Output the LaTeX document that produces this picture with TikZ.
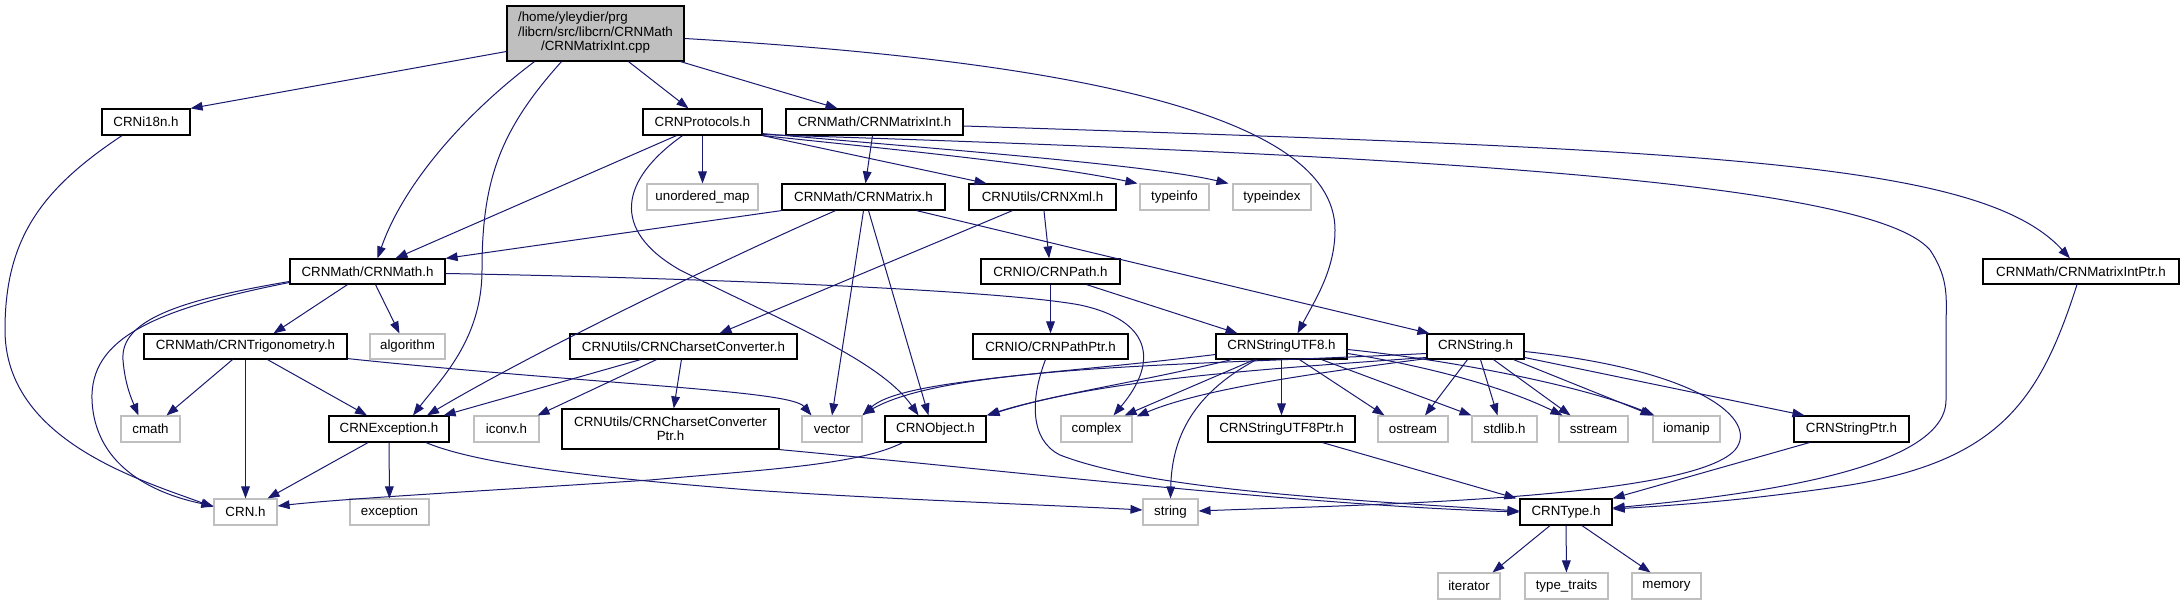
\documentclass[tikz,border=0pt]{standalone}
\usepackage{fontspec}
\setmainfont{Liberation Sans}
\usetikzlibrary{arrows.meta,calc}
\definecolor{edgecol}{HTML}{191970}
\definecolor{sysgray}{HTML}{BFBFBF}
\newcommand\mkbox[7]{\node[#1, minimum width={(#4-#2)*0.75pt}, minimum height={(#5-#3)*0.75pt}] (#6) at ({(#2+#4)/2},{(#3+#5)/2}) {#7};}
\begin{document}
\begin{tikzpicture}[x=0.75pt,y=-0.75pt,
  boxfont/.style={font=\fontsize{10}{10.8}\selectfont},
  hdr/.style={draw=black, line width=0.9pt, fill=white, inner sep=0pt, boxfont, align=center},
  sys/.style={draw=sysgray, line width=0.8pt, fill=white, inner sep=0pt, boxfont},
  rootbox/.style={draw=black, line width=0.9pt, fill=sysgray, inner sep=0pt, boxfont},
  edge/.style={draw=edgecol, line width=0.75pt, -{Triangle[length=9pt,width=6.5pt]}}]
\fill[white] (0,0) rectangle (2184,605);
\path[use as bounding box] (0,0) rectangle (2184,605);
% nodes
\mkbox{rootbox}{507}{6}{684}{61}{root}{\begin{tabular}{@{}l@{}}/home/yleydier/prg\\/libcrn/src/libcrn/CRNMath\\\multicolumn{1}{@{}c@{}}{/CRNMatrixInt.cpp}\end{tabular}}
\mkbox{hdr}{102}{109}{190}{135}{i18n}{CRNi18n.h}
\mkbox{hdr}{643}{109}{762}{135}{prot}{CRNProtocols.h}
\mkbox{hdr}{786}{109}{963}{135}{mint}{CRNMath/CRNMatrixInt.h}
\mkbox{sys}{647}{184}{758}{210}{umap}{unordered\_map}
\mkbox{hdr}{782}{184}{945}{210}{mat}{CRNMath/CRNMatrix.h}
\mkbox{hdr}{969}{184}{1116}{210}{xml}{CRNUtils/CRNXml.h}
\mkbox{sys}{1140}{184}{1209}{210}{tinfo}{typeinfo}
\mkbox{sys}{1233}{184}{1311}{210}{tidx}{typeindex}
\mkbox{hdr}{290}{259}{445}{284}{math}{CRNMath/CRNMath.h}
\mkbox{hdr}{981}{259}{1120}{284}{path}{CRNIO/CRNPath.h}
\mkbox{hdr}{1983}{259}{2179}{284}{mip}{CRNMath/CRNMatrixIntPtr.h}
\mkbox{hdr}{144}{334}{347}{359}{trig}{CRNMath/CRNTrigonometry.h}
\mkbox{sys}{370}{334}{445}{359}{algo}{algorithm}
\mkbox{hdr}{570}{334}{797}{359}{cc}{CRNUtils/CRNCharsetConverter.h}
\mkbox{hdr}{973}{334}{1128}{359}{pptr}{CRNIO/CRNPathPtr.h}
\mkbox{hdr}{1216}{334}{1347}{359}{sutf}{CRNStringUTF8.h}
\mkbox{hdr}{1427}{334}{1524}{359}{cstr}{CRNString.h}
\mkbox{sys}{121}{416}{180}{442}{cmath}{cmath}
\mkbox{hdr}{329}{416}{449}{442}{exc}{CRNException.h}
\mkbox{sys}{474}{416}{539}{442}{iconv}{iconv.h}
\mkbox{hdr}{562}{409}{779}{449}{ccp}{CRNUtils/CRNCharsetConverter\\Ptr.h}
\mkbox{sys}{802}{416}{862}{442}{vec}{vector}
\mkbox{hdr}{885}{416}{986}{442}{obj}{CRNObject.h}
\mkbox{sys}{1061}{416}{1132}{442}{cplx}{complex}
\mkbox{hdr}{1208}{416}{1355}{442}{su8p}{CRNStringUTF8Ptr.h}
\mkbox{sys}{1378}{416}{1448}{442}{ostr}{ostream}
\mkbox{sys}{1472}{416}{1537}{442}{stdl}{stdlib.h}
\mkbox{sys}{1559}{416}{1628}{442}{sstr}{sstream}
\mkbox{sys}{1653}{416}{1720}{442}{ioman}{iomanip}
\mkbox{hdr}{1794}{416}{1909}{442}{sptr}{CRNStringPtr.h}
\mkbox{sys}{214}{499}{277}{525}{crn}{CRN.h}
\mkbox{sys}{350}{499}{429}{525}{excn}{exception}
\mkbox{sys}{1143}{499}{1198}{525}{str}{string}
\mkbox{hdr}{1520}{499}{1612}{525}{type}{CRNType.h}
\mkbox{sys}{1438}{573}{1500}{599}{iter}{iterator}
\mkbox{sys}{1525}{573}{1608}{599}{ttr}{type\_traits}
\mkbox{sys}{1632}{573}{1701}{599}{mem}{memory}
% edges from root
\draw[edge] ($(root.west)+(0,18)$) -- (i18n.north east);
\draw[edge] ($(root.south)+(-61,0)$) .. controls (470,110) and (405,180) .. ($(math.north)+(10,0)$);
\draw[edge] ($(root.south)+(-34,0)$) .. controls (500,130) and (482,180) .. (482,270) .. controls (482,340) and (440,380) .. ($(exc.north)+(24,0)$);
\draw[edge] ($(root.south)+(33,0)$) -- ($(prot.north)+(-14,0)$);
\draw[edge] ($(root.south)+(85,0)$) -- ($(mint.north)+(-37,0)$);
\draw[edge] ($(root.east)+(0,5)$) .. controls (1050,60) and (1335,110) .. (1335,230) .. controls (1335,270) and (1315,300) .. ($(sutf.north)+(16,0)$);
% i18n
\draw[edge] ($(i18n.south)+(-24,0)$) .. controls (40,190) and (5,240) .. (5,330) .. controls (5,440) and (140,480) .. ($(crn.west)+(0,-5)$);
% protocols
\draw[edge] (prot) -- (umap);
\draw[edge] ($(prot.south)+(-26,0)$) -- ($(math.north)+(28,0)$);
\draw[edge] ($(prot.south)+(-20,0)$) .. controls (620,180) and (610,230) .. (680,270) .. controls (780,320) and (880,360) .. ($(obj.north)+(-17,0)$);
\draw[edge] (prot.south east) -- ($(xml.north)+(-56,0)$);
\draw[edge] (prot.south east) .. controls (900,150) and (1050,165) .. ($(tinfo.north west)+(-2,0)$);
\draw[edge] ($(prot.south east)+(0,-2)$) .. controls (950,150) and (1150,165) .. ($(tidx.north west)+(-4,0)$);
\draw[edge] ($(prot.south east)+(0,-1)$) .. controls (1400,155) and (1870,180) .. (1930,250) .. controls (1950,280) and (1946,300) .. (1946,330) -- (1946,400) .. controls (1946,470) and (1750,495) .. ($(type.east)+(0,-4)$);
% matrixint
\draw[edge] (mint) -- (mat);
\draw[edge] ($(mint.east)+(0,4)$) .. controls (1700,150) and (1980,160) .. ($(mip.north)+(-11,0)$);
% matrix
\draw[edge] (mat.south west) -- (math.north east);
\draw[edge] ($(mat.south)+(-28,0)$) .. controls (700,270) and (520,360) .. ($(exc.north)+(38,0)$);
\draw[edge] (mat.south) -- (vec.north);
\draw[edge] ($(mat.south)+(5,0)$) -- ($(obj.north)+(-7,0)$);
\draw[edge] ($(mat.south)+(53,0)$) -- ($(cstr.north west)+(3,0)$);
% xml, path
\draw[edge] (xml) -- (path);
\draw[edge] ($(xml.south)+(-30,0)$) -- ($(cc.north)+(36,0)$);
\draw[edge] (path) -- (pptr);
\draw[edge] ($(path.south)+(36,0)$) -- ($(sutf.north)+(-44,0)$);
% matrixintptr
\draw[edge] ($(mip.south)+(-4,0)$) .. controls (2040,400) and (2000,460) .. (1850,485) .. controls (1750,500) and (1680,505) .. ($(type.east)+(0,-3)$);
% math
\draw[edge] ($(math.south)+(-20,0)$) -- ($(trig.north)+(28,0)$);
\draw[edge] ($(math.south)+(8,0)$) -- ($(algo.north)+(-8,0)$);
\draw[edge] ($(math.west)+(0,10)$) .. controls (180,300) and (120,320) .. (123,360) .. controls (125,385) and (132,400) .. ($(cmath.north)+(-12,0)$);
\draw[edge] ($(math.west)+(0,11)$) .. controls (150,310) and (90,340) .. (92,400) .. controls (95,470) and (160,495) .. ($(crn.west)+(0,-6)$);
\draw[edge] ($(math.east)+(0,2)$) .. controls (700,278) and (1000,290) .. (1080,305) .. controls (1150,320) and (1160,360) .. ($(cplx.north)+(17,0)$);
% trigonometry
\draw[edge] ($(trig.south)+(-13,0)$) -- ($(cmath.north)+(16,0)$);
\draw[edge] (trig) -- (crn);
\draw[edge] ($(trig.south)+(22,0)$) -- ($(exc.north)+(-22,0)$);
\draw[edge] ($(trig.south east)+(0,-1)$) .. controls (600,385) and (790,390) .. ($(vec.north west)+(10,0)$);
% charset converter
\draw[edge] ($(cc.south)+(-43,0)$) -- ($(exc.north east)+(-6,0)$);
\draw[edge] ($(cc.south)+(-27,0)$) -- ($(iconv.north east)+(-2,0)$);
\draw[edge] (cc) -- (ccp);
% exception
\draw[edge] ($(exc.south)+(-21,0)$) -- ($(crn.north east)+(-10,0)$);
\draw[edge] (exc) -- (excn);
\draw[edge] ($(exc.south)+(37,0)$) .. controls (480,465) and (600,478) .. (750,490) .. controls (900,500) and (1050,505) .. ($(str.west)+(0,-2)$);
% ptrs to CRNType
\draw[edge] (ccp.south east) .. controls (1000,470) and (1300,505) .. (type.west);
\draw[edge] ($(pptr.south)+(-5,0)$) .. controls (1030,400) and (1030,440) .. (1060,455) .. controls (1150,490) and (1350,500) .. ($(type.west)+(0,-1)$);
\draw[edge] ($(su8p.south)+(41,0)$) -- ($(type.north west)+(-3,0)$);
\draw[edge] ($(sptr.south west)+(16,0)$) -- (type.north east);
% object
\draw[edge] ($(obj.south)+(-33,0)$) .. controls (860,465) and (760,470) .. (650,480) .. controls (500,490) and (350,498) .. ($(crn.east)+(0,-6)$);
% stringutf8
\draw[edge] ($(sutf.west)+(0,8)$) .. controls (1050,375) and (900,380) .. (vec.north east);
\draw[edge] ($(sutf.south)+(-50,0)$) .. controls (1150,380) and (1050,395) .. (obj.north east);
\draw[edge] ($(sutf.south)+(-27,0)$) -- ($(cplx.north east)+(-8,0)$);
\draw[edge] ($(sutf.south)+(-25,0)$) .. controls (1200,390) and (1172,430) .. (str.north);
\draw[edge] (sutf) -- (su8p);
\draw[edge] ($(sutf.south)+(18,0)$) -- ($(ostr.north west)+(7,0)$);
\draw[edge] ($(sutf.south)+(40,0)$) -- (stdl.north west);
\draw[edge] ($(sutf.east)+(0,7)$) .. controls (1420,365) and (1500,385) .. ($(sstr.north west)+(4,0)$);
\draw[edge] ($(sutf.east)+(0,3)$) .. controls (1450,360) and (1580,385) .. ($(ioman.north west)+(2,0)$);
% string
\draw[edge] ($(cstr.south)+(-8,0)$) -- ($(ostr.north)+(12,0)$);
\draw[edge] ($(cstr.south)+(5,0)$) -- ($(stdl.north)+(-7,0)$);
\draw[edge] ($(cstr.south)+(18,0)$) -- ($(sstr.north)+(-23,0)$);
\draw[edge] ($(cstr.south)+(38,0)$) -- (ioman.north west);
\draw[edge] ($(cstr.east)+(0,11)$) -- ($(sptr.north west)+(11,0)$);
\draw[edge] ($(cstr.east)+(0,5)$) .. controls (1700,370) and (1760,420) .. (1735,450) .. controls (1690,500) and (1350,505) .. ($(str.east)+(0,-1)$);
\draw[edge] ($(cstr.west)+(0,7)$) .. controls (1200,365) and (950,365) .. ($(vec.north east)+(0,-1)$);
\draw[edge] ($(cstr.west)+(0,11)$) .. controls (1250,370) and (1100,380) .. ($(obj.north east)+(1,0)$);
\draw[edge] ($(cstr.south west)+(0,-1)$) .. controls (1300,375) and (1200,390) .. ($(cplx.north east)+(4,1)$);
% type
\draw[edge] ($(type.south)+(-16,0)$) -- ($(iter.north east)+(-8,0)$);
\draw[edge] (type) -- (ttr);
\draw[edge] ($(type.south)+(16,0)$) -- ($(mem.north)+(-16,0)$);
\end{tikzpicture}
\end{document}
